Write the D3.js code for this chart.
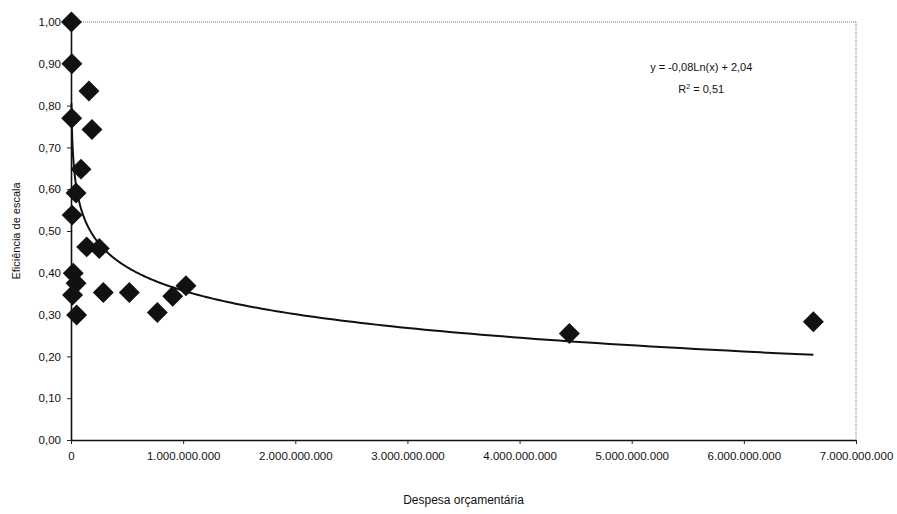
<!DOCTYPE html>
<html lang="pt">
<head>
<meta charset="utf-8">
<script src="https://cdn.jsdelivr.net/npm/d3@7"></script>
<style>
  html, body { margin: 0; padding: 0; background: #fff; }
  svg { display: block; }
  text { font-family: "Liberation Sans", Arial, sans-serif; fill: #111; }
</style>
</head>
<body>
<svg id="chart" width="897" height="514"></svg>
<script>
// Despesa orçamentária (R$) de cada unidade
const despesa = [
  4e6, 8e6, 160e6, 6e6, 187e6, 89e6, 45e6, 10e6, 140e6, 252e6,
  20e6, 45e6, 14e6, 50e6, 288e6, 520e6, 770e6, 907e6, 1025e6,
  4444e6, 6620e6
];
// Eficiência de escala correspondente
const eficiencia = [
  1.00, 0.90, 0.835, 0.77, 0.743, 0.648, 0.591, 0.538, 0.462, 0.458,
  0.399, 0.375, 0.347, 0.299, 0.353, 0.353, 0.305, 0.344, 0.369,
  0.255, 0.283
];
// Tendência logarítmica: y = a·ln(x) + b
const trendA = -0.0812;
const trendB = 2.04;
const trendR2 = 0.51;

const xTicks = [0, 1e9, 2e9, 3e9, 4e9, 5e9, 6e9, 7e9];
const yTicks = [0, 0.1, 0.2, 0.3, 0.4, 0.5, 0.6, 0.7, 0.8, 0.9, 1.0];

const xTitle = "Despesa orçamentária";
const yTitle = "Eficiência de escala";

const ptBR = d3.formatLocale({
  decimal: ",", thousands: ".", grouping: [3], currency: ["R$", ""], minus: "-"
});
const fmtX = ptBR.format(",.0f");
const fmtY = ptBR.format(".2f");

const W = 897, H = 514;
const m = { top: 22, right: 41, bottom: 74, left: 71 };
const iw = W - m.left - m.right;
const ih = H - m.top - m.bottom;

const svg = d3.select("#chart");
const g = svg.append("g").attr("transform", `translate(${m.left},${m.top})`);

const x = d3.scaleLinear().domain([0, 7e9]).range([0, iw]);
const y = d3.scaleLinear().domain([0, 1]).range([ih, 0]);

// dotted frame on top and right
g.append("line").attr("x1", 0).attr("x2", iw).attr("y1", 0).attr("y2", 0)
  .attr("stroke", "#777").attr("stroke-width", 1).attr("stroke-dasharray", "1,1");
g.append("line").attr("x1", iw).attr("x2", iw).attr("y1", 0).attr("y2", ih)
  .attr("stroke", "#777").attr("stroke-width", 1).attr("stroke-dasharray", "1,1");

// axes
const xAxis = g.append("g").attr("transform", `translate(0,${ih})`)
  .call(d3.axisBottom(x).tickValues(xTicks).tickFormat(fmtX).tickSize(4).tickPadding(8).tickSizeOuter(0));
const yAxis = g.append("g")
  .call(d3.axisLeft(y).tickValues(yTicks).tickFormat(fmtY).tickSize(4).tickPadding(6).tickSizeOuter(0));

[xAxis, yAxis].forEach(a => {
  a.select(".domain").attr("stroke", "#111").attr("stroke-width", 1.6);
  a.selectAll(".tick line").attr("stroke", "#222");
  a.selectAll(".tick text").attr("font-size", "11.5px").attr("fill", "#111")
    .attr("font-family", "Liberation Sans, Arial, sans-serif");
});

// logarithmic trend line, from smallest to largest expenditure
const [xmin, xmax] = d3.extent(despesa);
const trendPts = d3.range(0, 301).map(i => {
  const v = Math.exp(Math.log(xmin) + (Math.log(xmax) - Math.log(xmin)) * i / 300);
  return [v, trendA * Math.log(v) + trendB];
});
g.append("path")
  .datum(trendPts)
  .attr("fill", "none")
  .attr("stroke", "#111")
  .attr("stroke-width", 2)
  .attr("d", d3.line().x(d => x(d[0])).y(d => y(d[1])));

// data points as black diamonds
const diamond = d3.symbol().type(d3.symbolSquare).size(220);
g.append("g").selectAll("path")
  .data(despesa.map((d, i) => [d, eficiencia[i]]))
  .join("path")
  .attr("d", diamond)
  .attr("fill", "#111")
  .attr("transform", d => `translate(${x(d[0])},${y(d[1])}) rotate(45)`);

// equation and R²
const fmt2 = ptBR.format(".2f");
const eq = g.append("text")
  .attr("x", x(5.62e9)).attr("y", 49)
  .attr("text-anchor", "middle").attr("font-size", "11px");
eq.append("tspan").text(`y = ${fmt2(trendA)}Ln(x) + ${fmt2(trendB)}`);
const r2 = g.append("text")
  .attr("x", x(5.62e9)).attr("y", 71)
  .attr("text-anchor", "middle").attr("font-size", "11px");
r2.append("tspan").text("R");
r2.append("tspan").attr("font-size", "7px").attr("dy", "-4").text("2");
r2.append("tspan").attr("dy", "4").text(` = ${fmt2(trendR2)}`);

// axis titles
svg.append("text")
  .attr("x", m.left + iw / 2).attr("y", 504)
  .attr("text-anchor", "middle").attr("font-size", "12px")
  .text(xTitle);
svg.append("text")
  .attr("transform", `translate(20,${m.top + ih / 2}) rotate(-90)`)
  .attr("text-anchor", "middle").attr("font-size", "11px")
  .text(yTitle);
</script>
</body>
</html>
